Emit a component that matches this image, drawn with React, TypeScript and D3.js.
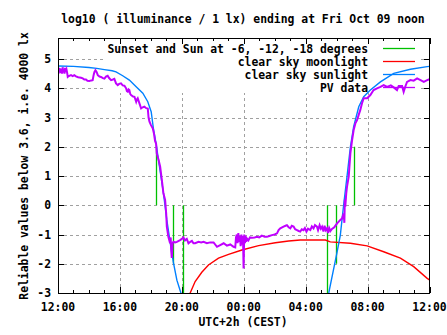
import React from "react";
import * as d3 from "d3";

const TITLE = "log10 ( illuminance / 1 lx) ending at Fri Oct 09 noon";
const X_LABEL = "UTC+2h (CEST)";
const Y_LABEL = "Reliable values below 3.6, i.e. 4000 lx";
const X_TICK_HOURS = [0, 4, 8, 12, 16, 20, 24];
const X_TICK_LABELS = ["12:00", "16:00", "20:00", "00:00", "04:00", "08:00", "12:00"];
const Y_TICKS = [-3, -2, -1, 0, 1, 2, 3, 4, 5];
const LEGEND = [
  "Sunset and Sun at -6, -12, -18 degrees",
  "clear sky moonlight",
  "clear sky sunlight",
  "PV data",
];
const COLORS = ["#00c000", "#ff0000", "#0080ff", "#c000ff"];

// [hour since 12:00, top value] vertical markers (drawn from 0)
const SUN_MARKERS: [number, number][] = [
  [6.32, 2], [7.46, -2], [8.1, -4],
  [17.36, -4], [17.94, -2], [19.1, 2],
];

const MOON: [number, number][] = [
  [8.4, -3.5], [8.54, -3], [8.86, -2.61], [9.29, -2.29], [9.72, -2.04], [10.37, -1.81],
  [11.02, -1.68], [11.88, -1.53], [12.96, -1.38], [14.04, -1.28], [14.9, -1.22],
  [15.65, -1.19], [16.19, -1.19], [17.27, -1.19], [17.59, -1.25], [18.89, -1.3],
  [19.97, -1.39], [21.04, -1.59], [22.12, -1.81], [22.98, -2.1], [23.85, -2.5], [24, -2.55],
];

const SUN_EVENING: [number, number][] = [
  [0, 4.76], [1, 4.75], [2, 4.71], [2.5, 4.68], [3, 4.64], [3.5, 4.6], [3.75, 4.56],
  [4.18, 4.43], [4.61, 4.28], [5.05, 4.05], [5.48, 3.83], [5.8, 3.54], [6.02, 3.2],
  [6.17, 2.6], [6.34, 2.1], [6.49, 1.55], [6.81, 0.42], [7.03, -0.5], [7.29, -1.42],
  [7.46, -1.97], [7.68, -2.56], [7.94, -3], [8.05, -3.3],
];

const SUN_MORNING: [number, number][] = [
  [17.35, -3.3], [17.49, -3], [18.02, -1.63], [18.24, -1.02], [18.45, 0], [18.67, 0.98],
  [18.89, 2.0], [19.1, 2.69], [19.43, 3.37], [19.75, 3.71], [20.18, 3.94], [20.83, 4.22],
  [21.69, 4.51], [22.77, 4.65], [23.85, 4.74], [24, 4.75],
];

const PV: [number, number][] = [
  [0, 4.62], [0.03, 4.5], [0.06, 4.7], [0.1, 4.55], [0.14, 4.68], [0.18, 4.52], [0.22, 4.66],
  [0.26, 4.5], [0.3, 4.72], [0.34, 4.55], [0.38, 4.62], [0.42, 4.5], [0.46, 4.7], [0.5, 4.56],
  [0.55, 4.64], [0.6, 4.5], [0.63, 4.39], [0.7, 4.42], [0.84, 4.45], [0.95, 4.42], [1.05, 4.45],
  [1.16, 4.41], [1.3, 4.38], [1.49, 4.36], [1.6, 4.34], [1.7, 4.3], [1.81, 4.3], [1.9, 4.26],
  [2.03, 4.25], [2.15, 4.27], [2.24, 4.28], [2.3, 4.45], [2.35, 4.55], [2.42, 4.62], [2.5, 4.55],
  [2.57, 4.45], [2.68, 4.4], [2.78, 4.39], [2.9, 4.35], [3.0, 4.33], [3.1, 4.4], [3.21, 4.43],
  [3.3, 4.35], [3.43, 4.28], [3.55, 4.3], [3.64, 4.32], [3.75, 4.17], [3.86, 4.11], [3.95, 4.15],
  [4.07, 4.17], [4.18, 4.1], [4.29, 4.09], [4.4, 4.0], [4.45, 3.9], [4.51, 3.88], [4.56, 3.96],
  [4.61, 3.94], [4.67, 3.8], [4.72, 3.77], [4.85, 3.72], [4.94, 3.71], [5.05, 3.54], [5.1, 3.62],
  [5.15, 3.66], [5.25, 3.5], [5.37, 3.31], [5.47, 3.35], [5.58, 3.37], [5.7, 3.32], [5.8, 3.31],
  [5.85, 3.0], [5.91, 2.86], [6.0, 2.75], [6.12, 2.63], [6.2, 2.45], [6.27, 2.2], [6.34, 2.1],
  [6.38, 1.78], [6.5, 1.55], [6.6, 1.32], [6.71, 0.86], [6.81, 0.41], [6.92, 0.18], [6.99, -0.28],
  [7.03, -0.73], [7.13, -1.08], [7.24, -1.3], [7.28, -1.1], [7.32, -1.6], [7.35, -1.8], [7.4, -1.3],
  [7.46, -1.25], [7.57, -1.27], [7.68, -1.25], [7.89, -1.19], [8.0, -1.15], [8.1, -1.1], [8.2, -1.2],
  [8.32, -1.15], [8.43, -1.3], [8.55, -1.25], [8.65, -1.22], [8.75, -1.3], [8.86, -1.3],
  [9.08, -1.25], [9.25, -1.27], [9.4, -1.25], [9.62, -1.3], [9.83, -1.27], [10.05, -1.27],
  [10.27, -1.42], [10.48, -1.36], [10.7, -1.3], [10.91, -1.38], [11.13, -1.34], [11.34, -1.42],
  [11.45, -1.44], [11.5, -1.1], [11.55, -1.0], [11.6, -1.3], [11.65, -0.95], [11.7, -1.25],
  [11.75, -1.05], [11.8, -1.4], [11.85, -1.0], [11.9, -1.35], [11.95, -1.05], [11.99, -2.16],
  [12.03, -1.0], [12.08, -1.3], [12.12, -1.05], [12.16, -1.25], [12.2, -1.13], [12.3, -1.2],
  [12.4, -1.1], [12.53, -1.11], [12.7, -1.1], [12.85, -1.08], [13.0, -1.1], [13.17, -1.04],
  [13.35, -1.08], [13.5, -1.08], [13.65, -1.05], [13.82, -1.02], [14.0, -1.0], [14.15, -0.96],
  [14.25, -0.85], [14.36, -0.79], [14.57, -0.73], [14.7, -0.7], [14.79, -0.68], [14.9, -0.75],
  [15.01, -0.79], [15.1, -0.7], [15.22, -0.73], [15.32, -0.82], [15.44, -0.85], [15.55, -0.88],
  [15.65, -0.9], [15.75, -0.82], [15.86, -0.85], [15.95, -0.78], [16.05, -0.9], [16.15, -0.8],
  [16.3, -0.85], [16.4, -0.72], [16.51, -0.79], [16.6, -0.68], [16.73, -0.73], [16.8, -0.85],
  [16.9, -0.68], [16.98, -0.8], [17.06, -0.73], [17.15, -0.9], [17.22, -0.7], [17.3, -0.85],
  [17.38, -0.79], [17.45, -0.95], [17.52, -0.78], [17.6, -0.88], [17.7, -0.81], [17.85, -0.75],
  [18.03, -0.62], [18.24, -0.5], [18.35, -0.45], [18.45, -0.28], [18.5, -0.6], [18.53, 0.2],
  [18.56, -0.05], [18.62, 0.4], [18.67, 0.63], [18.78, 0.98], [18.89, 1.78], [19.0, 2.23],
  [19.1, 2.57], [19.21, 2.8], [19.32, 2.91], [19.43, 3.1], [19.53, 3.26], [19.64, 3.49],
  [19.75, 3.66], [19.97, 3.66], [20.18, 3.77], [20.39, 3.94], [20.61, 4.0], [20.83, 4.05],
  [21.04, 4.11], [21.26, 4.05], [21.5, 4.1], [21.69, 4.03], [21.9, 3.94], [22.01, 4.08],
  [22.23, 4.08], [22.33, 3.88], [22.45, 4.08], [22.55, 4.22], [22.77, 4.28], [22.98, 4.26],
  [23.2, 4.34], [23.42, 4.28], [23.63, 4.22], [23.85, 4.28], [24, 4.31],
];

const W = 447, H = 335;
const L = 58, R = 429.5, T = 38, B = 293;
const KEY = { x1: 104, x2: 421, y2: 93 };
const FONT = "'DejaVu Sans Mono', 'Liberation Mono', monospace";

export default function App() {
  const x = d3.scaleLinear().domain([0, 24]).range([L, R]);
  const y = d3.scaleLinear().domain([-3, 5.72]).range([B, T]);
  const line = d3.line<[number, number]>().x((d) => x(d[0])).y((d) => y(d[1]));
  const minorHours = d3.range(0, 25).filter((h) => h % 4 !== 0);
  const txt = { fontFamily: FONT, fontSize: 11.4, fontWeight: "bold" as const, fill: "#000" };

  return (
    <svg width={W} height={H} style={{ position: "absolute", left: 0, top: 0, background: "#fff" }}>
      <defs>
        <clipPath id="plot">
          <rect x={L} y={T} width={R - L} height={B - T} />
        </clipPath>
      </defs>
      {/* grid */}
      <g stroke="#a0a0a0" strokeWidth={1} strokeDasharray="3,3" shapeRendering="crispEdges">
        {Y_TICKS.filter((v) => v > -3).map((v) => {
          const yy = Math.round(y(v)) + 0.5;
          if (yy < KEY.y2) {
            return (
              <g key={v}>
                <line x1={L} x2={KEY.x1} y1={yy} y2={yy} />
                <line x1={KEY.x2} x2={R} y1={yy} y2={yy} />
              </g>
            );
          }
          return <line key={v} x1={L} x2={R} y1={yy} y2={yy} />;
        })}
        {X_TICK_HOURS.slice(1, -1).map((h) => {
          const xx = Math.round(x(h)) + 0.5;
          return <line key={h} x1={xx} x2={xx} y1={B} y2={KEY.y2} />;
        })}
      </g>
      {/* ticks */}
      <g stroke="#000" strokeWidth={1} shapeRendering="crispEdges">
        {X_TICK_HOURS.map((h) => {
          const xx = Math.round(x(h)) + 0.5;
          return (
            <g key={h}>
              <line x1={xx} x2={xx} y1={B} y2={B - 6} />
              <line x1={xx} x2={xx} y1={T} y2={T + 6} />
            </g>
          );
        })}
        {minorHours.map((h) => {
          const xx = Math.round(x(h)) + 0.5;
          return (
            <g key={h}>
              <line x1={xx} x2={xx} y1={B} y2={B - 3} />
              <line x1={xx} x2={xx} y1={T} y2={T + 3} />
            </g>
          );
        })}
        {Y_TICKS.map((v) => {
          const yy = Math.round(y(v)) + 0.5;
          return (
            <g key={v}>
              <line x1={L} x2={L + 6} y1={yy} y2={yy} />
              <line x1={R} x2={R - 6} y1={yy} y2={yy} />
            </g>
          );
        })}
      </g>
      {/* data */}
      <g clipPath="url(#plot)" fill="none">
        {SUN_MARKERS.map(([h, v], i) => {
          const xx = Math.round(x(h)) + 0.5;
          return <line key={i} x1={xx} x2={xx} y1={y(0)} y2={y(v)} stroke={COLORS[0]} strokeWidth={1.3} />;
        })}
        <path d={line(MOON) || ""} stroke={COLORS[1]} strokeWidth={1.4} />
        <path d={line(SUN_EVENING) || ""} stroke={COLORS[2]} strokeWidth={1.4} />
        <path d={line(SUN_MORNING) || ""} stroke={COLORS[2]} strokeWidth={1.4} />
        <path d={line(PV) || ""} stroke={COLORS[3]} strokeWidth={2} strokeLinejoin="miter" />
      </g>
      {/* border */}
      <rect x={L + 0.5} y={T + 0.5} width={R - L - 0.5} height={B - T - 0.5} fill="none" stroke="#000" strokeWidth={1} shapeRendering="crispEdges" />
      {/* legend */}
      {LEGEND.map((label, i) => {
        const yy = 48.5 + i * 13;
        return (
          <g key={label}>
            <text x={368} y={yy + 4} textAnchor="end" {...txt}>{label}</text>
            <line x1={383} x2={415} y1={yy} y2={yy} stroke={COLORS[i]} strokeWidth={1.3} />
          </g>
        );
      })}
      {/* tick labels */}
      {Y_TICKS.map((v) => (
        <text key={v} x={51} y={y(v) + 4} textAnchor="end" {...txt}>{v}</text>
      ))}
      {X_TICK_HOURS.map((h, i) => (
        <text key={h} x={x(h)} y={311} textAnchor="middle" {...txt}>{X_TICK_LABELS[i]}</text>
      ))}
      <text x={243} y={326} textAnchor="middle" {...txt}>{X_LABEL}</text>
      <text x={243} y={23} textAnchor="middle" {...txt}>{TITLE}</text>
      <text transform="translate(28,166) rotate(-90)" textAnchor="middle" {...txt}>{Y_LABEL}</text>
    </svg>
  );
}
